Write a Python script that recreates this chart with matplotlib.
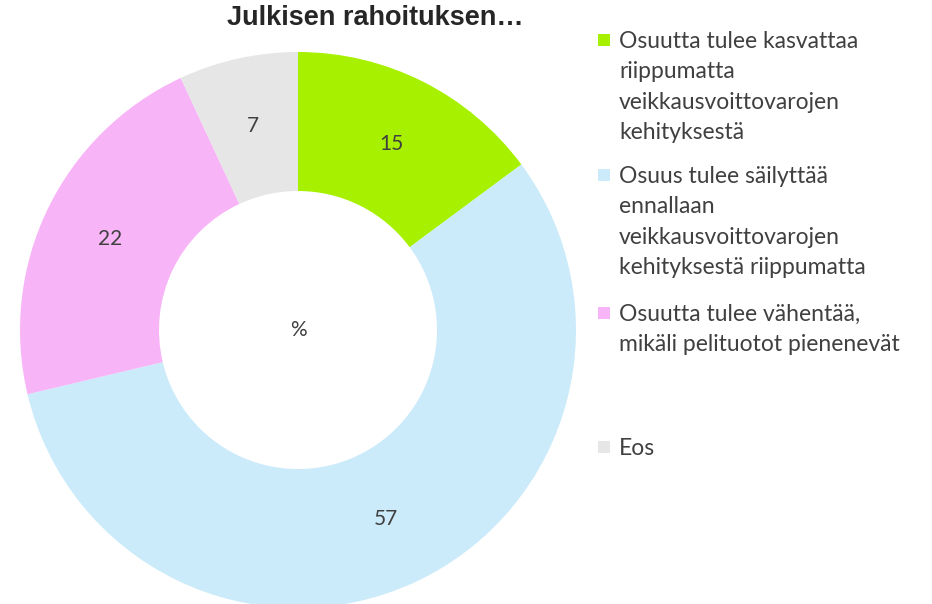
import matplotlib.pyplot as plt
from matplotlib.patches import Rectangle
import numpy as np

# data
categories = [
    "Osuutta tulee kasvattaa\nriippumatta\nveikkausvoittovarojen\nkehityksestä",
    "Osuus tulee säilyttää\nennallaan\nveikkausvoittovarojen\nkehityksestä riippumatta",
    "Osuutta tulee vähentää,\nmikäli pelituotot pienenevät",
    "Eos",
]
values = [15, 57, 22, 7]
colors = ["#A6F000", "#CCEBFA", "#F7B5F7", "#E6E6E6"]
title = "Julkisen rahoituksen…"

W, H = 932, 604
fig = plt.figure(figsize=(W / 100, H / 100), dpi=100)

# donut: centre (298, 330) px, radius 278 px
cx, cy, r = 298, 330, 278
ax = fig.add_axes([(cx - r) / W, (H - cy - r) / H, 2 * r / W, 2 * r / H])
wedges, _ = ax.pie(values, colors=colors, startangle=90, counterclock=False,
                   radius=1, wedgeprops=dict(width=0.5, edgecolor="white", linewidth=0))
ax.set_xlim(-1, 1)
ax.set_ylim(-1, 1)
ax.set_aspect("equal")
ax.axis("off")

txt_color = "#404040"
font = "Lato"
for w, v in zip(wedges, values):
    ang = np.deg2rad((w.theta1 + w.theta2) / 2)
    ax.text(0.75 * np.cos(ang), 0.75 * np.sin(ang), str(v), ha="center", va="center",
            fontsize=15, color=txt_color, family=font)
ax.text(0, 0, "%", ha="center", va="center", fontsize=15, color=txt_color, family=font)

fig.text(375 / W, 1 - 18 / H, title, ha="center", va="center", fontsize=19.5,
         fontweight="bold", color="#262626", family="Liberation Sans")

# legend drawn by hand
entry_y = [40, 175, 313, 447]
for lab, col, y in zip(categories, colors, entry_y):
    fig.patches.append(Rectangle((598 / W, 1 - (y + 6) / H), 12 / W, 12 / H,
                                 transform=fig.transFigure, facecolor=col, edgecolor="none"))
    fig.text(619 / W, 1 - (y - 9) / H, lab, ha="left", va="top", fontsize=16.5,
             color=txt_color, family=font, linespacing=1.55)

fig.savefig("out.png", dpi=100)
